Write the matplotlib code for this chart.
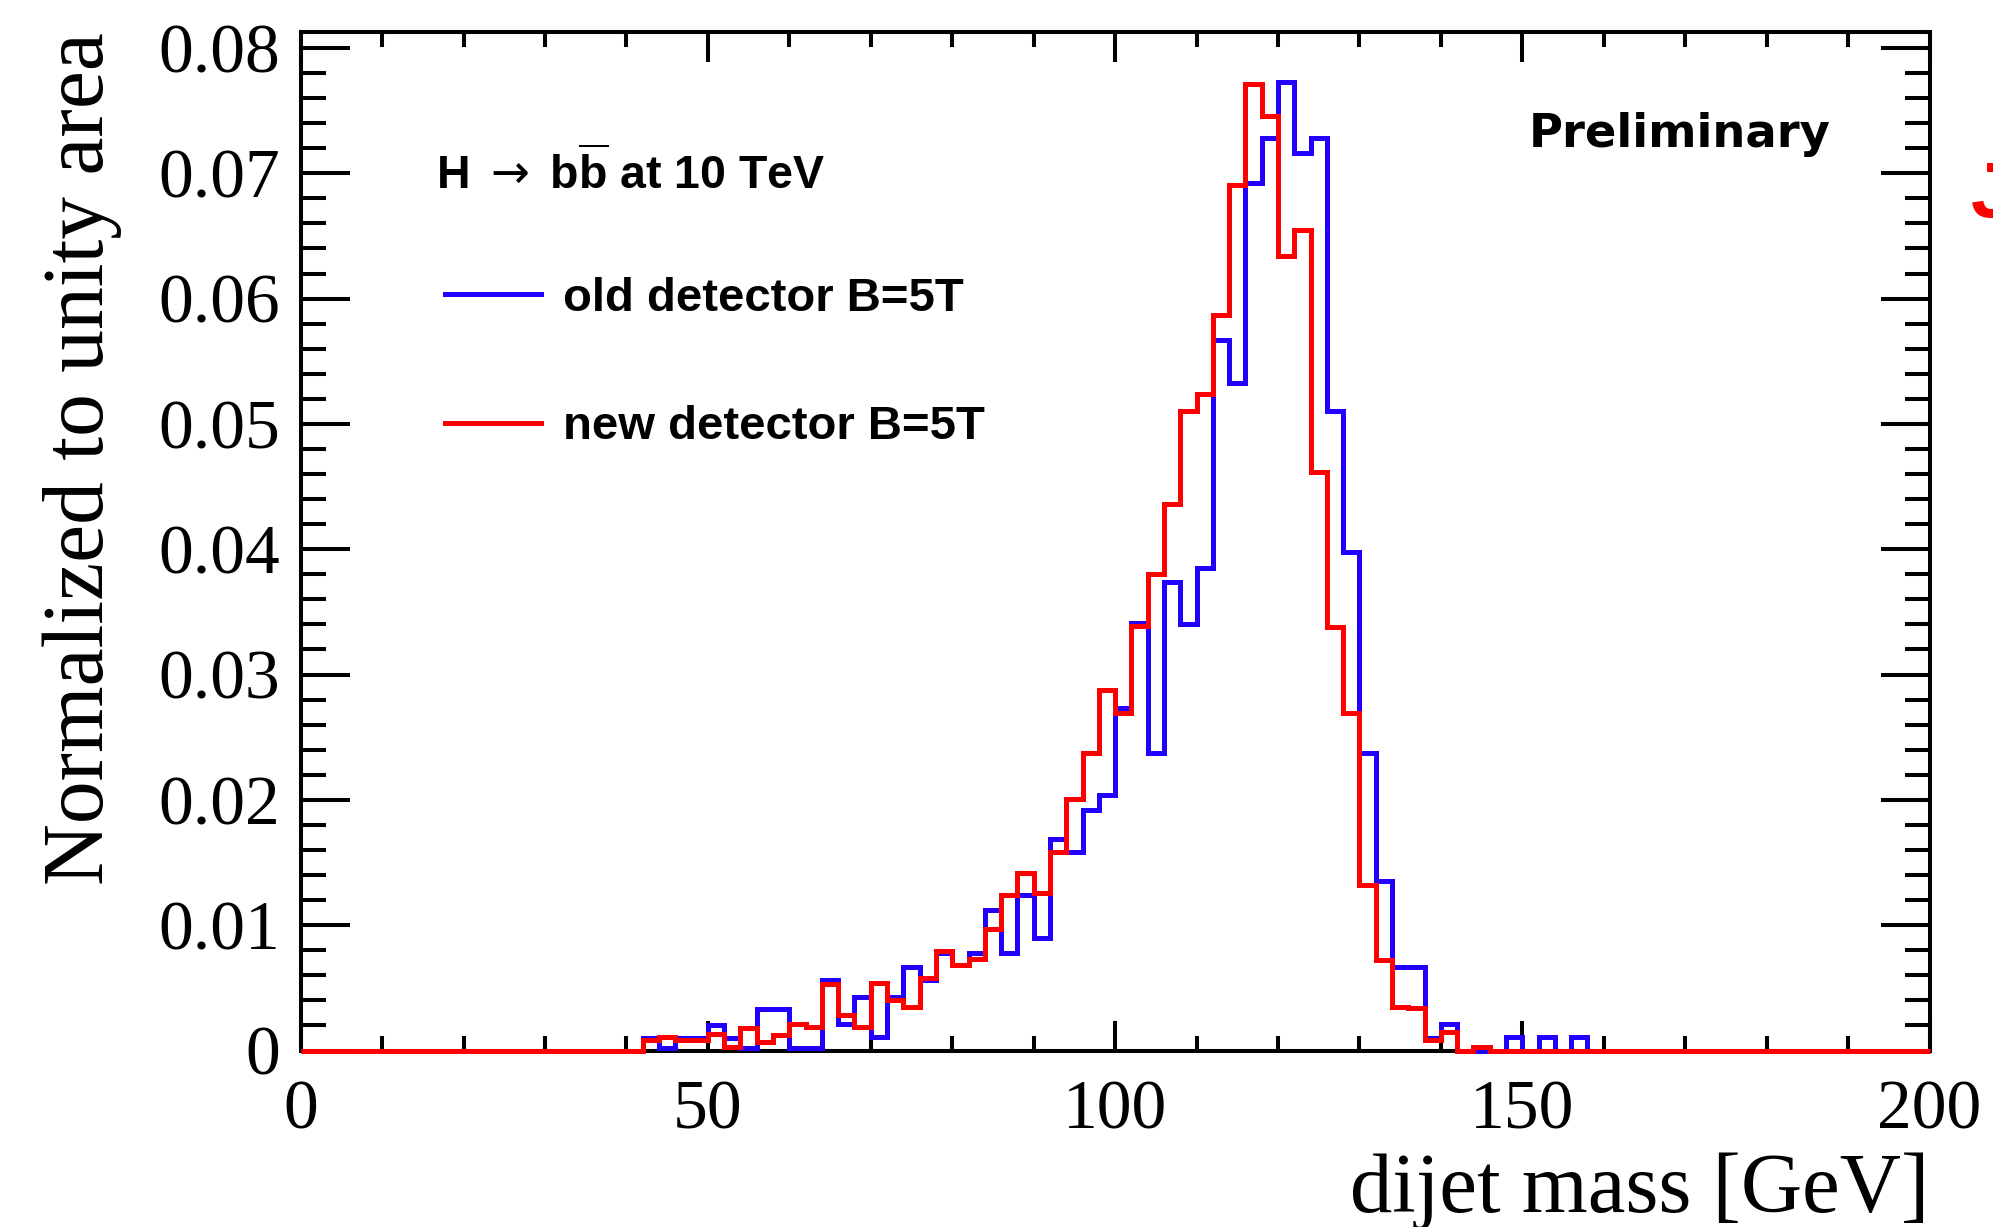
import numpy as np
import matplotlib
matplotlib.use("Agg")
import matplotlib.pyplot as plt
from matplotlib.ticker import MultipleLocator, FuncFormatter
from matplotlib.lines import Line2D

# ---------------- data ----------------
bin_edges = np.arange(0, 202, 2)  # 2 GeV bins from 0 to 200

# non-zero region starts at 42 GeV; values per 2 GeV bin
old_start = 42
old_values = [0.0010, 0.0002, 0.0010, 0.0010, 0.0020, 0.0010, 0.0002, 0.0033, 0.0033, 0.0002,
              0.0002, 0.0056, 0.0021, 0.0043, 0.0011, 0.0043, 0.0067, 0.0056, 0.0078, 0.0068,
              0.0078, 0.0112, 0.0078, 0.0124, 0.0090, 0.0169, 0.0158, 0.0192, 0.0204, 0.0273,
              0.0341, 0.0237, 0.0374, 0.0340, 0.0385, 0.0567, 0.0533, 0.0692, 0.0728, 0.0773,
              0.0716, 0.0728, 0.0510, 0.0398, 0.0237, 0.0135, 0.0067, 0.0067, 0.0010, 0.0021,
              0.0, 0.0, 0.0, 0.0011, 0.0, 0.0011, 0.0, 0.0011]
new_start = 42
new_values = [0.0008, 0.0011, 0.0008, 0.0008, 0.0013, 0.0003, 0.0018, 0.0007, 0.0012, 0.0021,
              0.0019, 0.0053, 0.0028, 0.0019, 0.0054, 0.0040, 0.0035, 0.0058, 0.0079, 0.0068,
              0.0073, 0.0097, 0.0124, 0.0142, 0.0126, 0.0158, 0.0201, 0.0237, 0.0288, 0.0269,
              0.0339, 0.0380, 0.0436, 0.0510, 0.0524, 0.0587, 0.0691, 0.0771, 0.0746, 0.0634,
              0.0655, 0.0462, 0.0338, 0.0269, 0.0132, 0.0072, 0.0035, 0.0034, 0.0008, 0.0015,
              0.0, 0.0003]

labels = ["old detector B=5T", "new detector B=5T"]
colors = ["#2200ff", "#ff0000"]


def full_hist(start, vals):
    h = np.zeros(len(bin_edges) - 1)
    i0 = start // 2
    h[i0:i0 + len(vals)] = vals
    return h


h_old = full_hist(old_start, old_values)
h_new = full_hist(new_start, new_values)

# ---------------- figure ----------------
plt.rcParams["mathtext.fontset"] = "custom"
plt.rcParams["mathtext.rm"] = "Liberation Sans"
plt.rcParams["mathtext.bf"] = "Liberation Sans:bold"
plt.rcParams["mathtext.it"] = "Liberation Sans:italic"
plt.rcParams["mathtext.sf"] = "DejaVu Sans"

W, H = 1993, 1227
fig = plt.figure(figsize=(W / 100, H / 100), dpi=100)
ax_left, ax_right, ax_top, ax_bottom = 300.7, 1929.5, 32.3, 1050.5
ax = fig.add_axes([ax_left / W, 1 - ax_bottom / H, (ax_right - ax_left) / W, (ax_bottom - ax_top) / H])

lw = 3.6
ax.stairs(h_old, bin_edges, color=colors[0], lw=lw, zorder=3, clip_on=False, baseline=None)
ax.stairs(h_new, bin_edges, color=colors[1], lw=lw, zorder=4, clip_on=False, baseline=None)

ax.set_xlim(0, 200)
ax.set_ylim(0, 0.08125)

serif = "Liberation Serif"
for s in ax.spines.values():
    s.set_linewidth(2.9)

ax.xaxis.set_major_locator(MultipleLocator(50))
ax.xaxis.set_minor_locator(MultipleLocator(10))
ax.yaxis.set_major_locator(MultipleLocator(0.01))
ax.yaxis.set_minor_locator(MultipleLocator(0.002))
ax.yaxis.set_major_formatter(FuncFormatter(lambda v, p: "0" if abs(v) < 1e-9 else f"{v:.2f}"))
ax.xaxis.set_major_formatter(FuncFormatter(lambda v, p: f"{v:.0f}"))

ax.tick_params(which="both", direction="in", top=True, right=True, width=2.9, color="black")
ax.tick_params(axis="x", which="major", length=21.6, pad=21, labelsize=50)
ax.tick_params(axis="x", which="minor", length=10.8)
ax.tick_params(axis="y", which="major", length=35, pad=15, labelsize=50)
ax.tick_params(axis="y", which="minor", length=18)
for lab in ax.get_xticklabels() + ax.get_yticklabels():
    lab.set_fontfamily(serif)

# axis titles (ROOT style: right / top aligned)
fig.text(ax_right / W, 1 - 1212 / H, "dijet mass [GeV]", fontfamily=serif, fontsize=61,
         ha="right", va="baseline")
fig.text(103 / W, 1 - ax_top / H, "Normalized to unity area", fontfamily=serif, fontsize=61.6,
         rotation=90, rotation_mode="anchor", ha="right", va="baseline")


def ax_x(px):
    return (px - ax_left) / (ax_right - ax_left)


def ax_y(py):
    return (ax_bottom - py) / (ax_bottom - ax_top)


# header text
ax.text(ax_x(436), ax_y(190), r"H $\mathsf{\rightarrow}$ $\mathbf{b\overline{b}}$ at 10 TeV",
        transform=ax.transAxes, fontfamily="Liberation Sans", fontweight="bold", fontsize=33.5,
        ha="left", va="baseline")

# legend
handles = [Line2D([], [], color=c, lw=3.6) for c in colors]
ax.legend(handles, labels, loc="upper left", bbox_to_anchor=(ax_x(445), ax_y(277)),
          frameon=False, borderpad=0, borderaxespad=0, handlelength=2.03, handletextpad=0.47,
          labelspacing=1.78, prop={"family": "Liberation Sans", "weight": "bold", "size": 34})

# Preliminary
ax.text(ax_x(1529), ax_y(147), "Preliminary", transform=ax.transAxes,
        fontfamily="DejaVu Sans", fontweight="bold", fontsize=33.5, ha="left", va="baseline")

# clipped red fragment at the right edge of the page (only the hook of a letter shows)
fig.text(1971 / W, 1 - 217 / H, "J", color="red", fontfamily="Liberation Sans", fontweight="bold",
         fontsize=56, ha="left", va="baseline")

fig.savefig("out.png", dpi=100)
